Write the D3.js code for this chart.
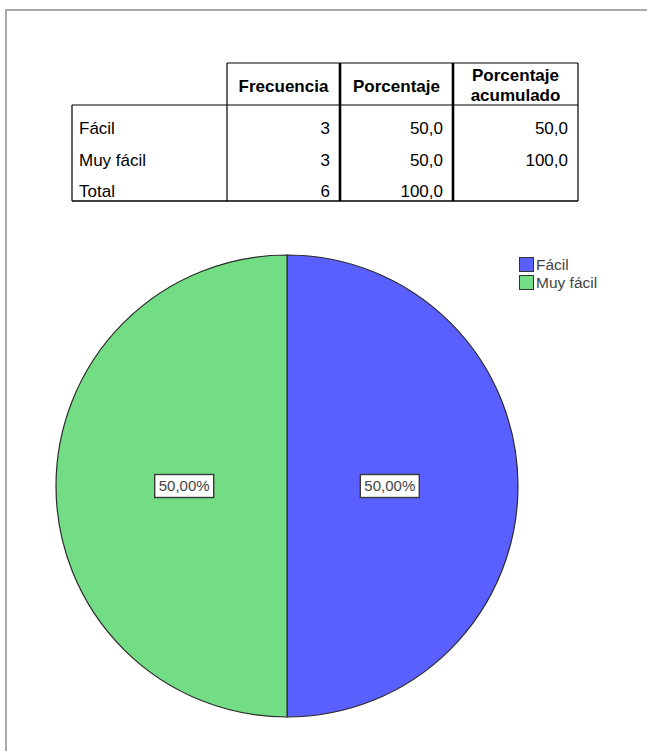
<!DOCTYPE html>
<html>
<head>
<meta charset="utf-8">
<script src="https://cdn.jsdelivr.net/npm/d3@7"></script>
<style>
    body { margin: 0; background: #fff; }
    svg { display: block; font-family: "Liberation Sans", Arial, sans-serif; }
</style>
</head>
<body>
<div id="chart"></div>
<script>
// table + pie data
const categories = ['Fácil', 'Muy fácil'];
const frequencies = [3, 3];
const percents = [50.0, 50.0];
const cumulative = [50.0, 100.0];
const totalRow = { label: 'Total', freq: 6, pct: 100.0 };
const headers = [['Frecuencia'], ['Porcentaje'], ['Porcentaje', 'acumulado']];
const sliceColors = ['#5a5fff', '#72dd84'];

const width = 647;
const height = 751;

const svg = d3.select('#chart')
    .append('svg')
    .attr('width', width)
    .attr('height', height);

// grey frame, only top and left show
svg.append('path')
    .attr('d', `M6,${height} V10 H${width}`)
    .attr('fill', 'none')
    .attr('stroke', '#a9a9a9')
    .attr('stroke-width', 2);

const es = d3.formatLocale({ decimal: ',', thousands: '.', grouping: [3], currency: ['', ''] });
const f1 = es.format('.1f');
const f2 = es.format('.2f');

// ---- frequency table ----
const colX = [72, 227, 340, 453, 578];
const headTop = 63;
const bodyTop = 105;
const bodyBottom = 201;
const rowBase = [134, 166, 197];

const table = svg.append('g')
    .attr('font-size', 17)
    .attr('fill', '#000');

// header text
headers.forEach((lines, i) => {
    const cx = (colX[i + 1] + colX[i + 2]) / 2;
    const t = table.append('text')
        .attr('text-anchor', 'middle')
        .attr('font-weight', 'bold')
        .attr('font-size', 17);
    if (lines.length === 1) {
        t.append('tspan').attr('x', cx).attr('y', 92).text(lines[0]);
    } else {
        t.append('tspan').attr('x', cx).attr('y', 81).text(lines[0]);
        t.append('tspan').attr('x', cx).attr('y', 101).text(lines[1]);
    }
});

const rows = categories.map((c, i) => [c, frequencies[i], f1(percents[i]), f1(cumulative[i])]);
rows.push([totalRow.label, totalRow.freq, f1(totalRow.pct), '']);

rows.forEach((r, ri) => {
    table.append('text')
        .attr('x', colX[0] + 7)
        .attr('y', rowBase[ri])
        .text(r[0]);
    r.slice(1).forEach((v, ci) => {
        table.append('text')
            .attr('x', colX[ci + 2] - 10)
            .attr('y', rowBase[ri])
            .attr('text-anchor', 'end')
            .text(v);
    });
});

// table lines
const line = (x1, y1, x2, y2, w) => table.append('line')
    .attr('x1', x1).attr('y1', y1).attr('x2', x2).attr('y2', y2)
    .attr('stroke', '#000').attr('stroke-width', w);

line(colX[1], headTop, colX[4], headTop, 1.2);
line(colX[0], bodyTop, colX[4], bodyTop, 1.2);
line(colX[0], bodyBottom, colX[4], bodyBottom, 1.6);
line(colX[0], bodyTop, colX[0], bodyBottom, 1.2);
line(colX[1], headTop, colX[1], bodyBottom, 1.2);
line(colX[2], headTop, colX[2], bodyBottom, 2.6);
line(colX[3], headTop, colX[3], bodyBottom, 2.6);
line(colX[4], headTop, colX[4], bodyBottom, 1.2);

// ---- pie ----
const cx = 287, cy = 486, radius = 231;

const pie = d3.pie().sort(null).value(d => d);
const arcs = pie(frequencies);
const arc = d3.arc().innerRadius(0).outerRadius(radius);
const labelArc = d3.arc().innerRadius(radius * 0.445).outerRadius(radius * 0.445);
const total = d3.sum(frequencies);

const color = d3.scaleOrdinal()
    .domain(categories)
    .range(sliceColors);

const pieG = svg.append('g')
    .attr('transform', `translate(${cx},${cy})`);

pieG.selectAll('path')
    .data(arcs)
    .join('path')
    .attr('d', arc)
    .attr('fill', (d, i) => color(categories[i]))
    .attr('stroke', '#2b2b2b')
    .attr('stroke-width', 1.2);

const labels = pieG.selectAll('g.lbl')
    .data(arcs)
    .join('g')
    .attr('class', 'lbl')
    .attr('transform', d => `translate(${labelArc.centroid(d)})`);

labels.append('rect')
    .attr('x', -29.5)
    .attr('y', -11.5)
    .attr('width', 59)
    .attr('height', 23)
    .attr('fill', '#fff')
    .attr('stroke', '#3a3a3a')
    .attr('stroke-width', 1.4);

labels.append('text')
    .attr('text-anchor', 'middle')
    .attr('dy', '0.36em')
    .attr('font-size', 15)
    .attr('fill', '#444')
    .text(d => f2(d.value / total * 100) + '%');

// ---- legend ----
const legend = svg.append('g')
    .attr('transform', 'translate(519, 257)');

legend.selectAll('rect')
    .data(categories)
    .join('rect')
    .attr('x', 0.5)
    .attr('y', (_, i) => i * 18 + 0.5)
    .attr('width', 14)
    .attr('height', 14)
    .attr('fill', d => color(d))
    .attr('stroke', '#333')
    .attr('stroke-width', 1);

legend.selectAll('text')
    .data(categories)
    .join('text')
    .attr('x', 17)
    .attr('y', (_, i) => i * 18 + 13)
    .attr('font-size', 15.5)
    .attr('fill', '#444')
    .text(d => d);
</script>
</body>
</html>
